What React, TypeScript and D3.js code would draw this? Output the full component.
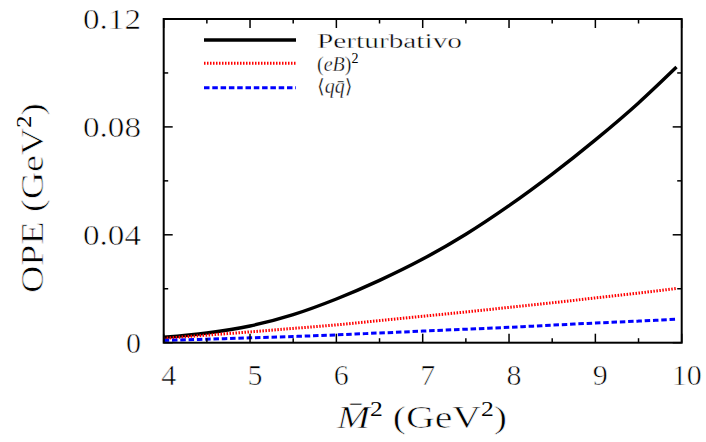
import React from "react";
import * as d3 from "d3";

// Borel mass squared (GeV^2)
const m2Values = [4, 4.5, 5, 5.5, 6, 6.5, 7, 7.5, 8, 8.5, 9, 9.5, 9.94];
// OPE contributions (GeV^2)
const perturbativo = [0.002, 0.0036, 0.0062, 0.0104, 0.0162, 0.0231, 0.031, 0.0402, 0.0508, 0.0625, 0.0752, 0.0889, 0.1022];
const eB2 = [0.0016, 0.0028, 0.004, 0.0053, 0.0066, 0.0082, 0.0098, 0.0114, 0.0131, 0.0148, 0.0166, 0.0184, 0.0201];
const condensado = [0.0008, 0.0013, 0.0018, 0.0023, 0.0029, 0.0036, 0.0043, 0.005, 0.0057, 0.0065, 0.0073, 0.008, 0.0087];

const xMajorTicks = [4, 5, 6, 7, 8, 9, 10];
const xMinorTicks = [4.5, 5.5, 6.5, 7.5, 8.5, 9.5];
const yMajorTicks = [0, 0.04, 0.08, 0.12];
const yMinorTicks = [0.02, 0.06, 0.1];
const yTickLabels = ["0", "0.04", "0.08", "0.12"];

const W = 706;
const H = 442;
const L = 163.7;
const R = 681.7;
const T = 19;
const B = 342.7;

const FONT = "'Times New Roman', 'Liberation Serif', Tinos, 'DejaVu Serif', serif";

// thin white outline drawn over the glyphs to lighten the heavy serif face
const textStyle = { stroke: "#fff", strokeWidth: 0.6 } as const;
const supStyle = { stroke: "none" } as const;

export default function App() {
  const x = d3.scaleLinear().domain([4, 10]).range([L, R]);
  const y = d3.scaleLinear().domain([0, 0.12]).range([B, T]);

  const line = d3
    .line<number>()
    .x((_, i) => x(m2Values[i]))
    .y((d) => y(d))
    .curve(d3.curveMonotoneX);

  const series = [
    { name: "pert", values: perturbativo, color: "#000000", width: 3.4, dash: "" },
    { name: "eB", values: eB2, color: "#ff0000", width: 3, dash: "1.5,1.5" },
    { name: "qq", values: condensado, color: "#0000ff", width: 3, dash: "5.5,2.8" },
  ];

  const major = 9;
  const minor = 4.5;
  const legendY = [40, 63.3, 87.7];

  return (
    <svg
      width={W}
      height={H}
      viewBox={`0 0 ${W} ${H}`}
      style={{ position: "absolute", left: 0, top: 0, background: "#fff", fontFamily: FONT }}
    >
      <rect x={0} y={0} width={W} height={H} fill="#fff" />

      {/* curves */}
      {series.map((s) => (
        <path
          key={s.name}
          d={line(s.values) || ""}
          fill="none"
          stroke={s.color}
          strokeWidth={s.width}
          strokeDasharray={s.dash || undefined}
        />
      ))}

      {/* x ticks, bottom and top */}
      {xMajorTicks.map((t) => (
        <g key={`xM${t}`} stroke="#000" strokeWidth={1.5}>
          <line x1={x(t)} x2={x(t)} y1={B} y2={B - major} />
          <line x1={x(t)} x2={x(t)} y1={T} y2={T + major} />
        </g>
      ))}
      {xMinorTicks.map((t) => (
        <g key={`xm${t}`} stroke="#000" strokeWidth={1.5}>
          <line x1={x(t)} x2={x(t)} y1={B} y2={B - minor} />
          <line x1={x(t)} x2={x(t)} y1={T} y2={T + minor} />
        </g>
      ))}
      {/* y ticks, left and right */}
      {yMajorTicks.map((t) => (
        <g key={`yM${t}`} stroke="#000" strokeWidth={1.5}>
          <line x1={L} x2={L + major} y1={y(t)} y2={y(t)} />
          <line x1={R} x2={R - major} y1={y(t)} y2={y(t)} />
        </g>
      ))}
      {yMinorTicks.map((t) => (
        <g key={`ym${t}`} stroke="#000" strokeWidth={1.5}>
          <line x1={L} x2={L + minor} y1={y(t)} y2={y(t)} />
          <line x1={R} x2={R - minor} y1={y(t)} y2={y(t)} />
        </g>
      ))}

      {/* frame */}
      <rect x={L} y={T} width={R - L} height={B - T} fill="none" stroke="#000" strokeWidth={2} />

      <g style={textStyle}>
        {/* tick labels */}
        {xMajorTicks.map((t) => (
          <text key={`xl${t}`} x={x(t) + 5} y={385} fontSize={30} textAnchor="middle" fill="#000">
            {t}
          </text>
        ))}
        {yMajorTicks.map((t, i) => (
          <text
            key={`yl${t}`}
            x={141}
            y={y(t) + 10}
            fontSize={30}
            textAnchor="end"
            fill="#000"
            textLength={yTickLabels[i].length > 1 ? 58 : undefined}
            lengthAdjust="spacingAndGlyphs"
          >
            {yTickLabels[i]}
          </text>
        ))}

        {/* axis titles */}
        <text x={337} y={428} fontSize={31} fill="#000" textLength={170} lengthAdjust="spacingAndGlyphs">
          <tspan fontStyle="italic">{"M\u0304"}</tspan>
          <tspan fontSize={20} dy={-12} style={supStyle}>2</tspan>
          <tspan dy={12}>{"\u00a0(GeV"}</tspan>
          <tspan fontSize={20} dy={-12} style={supStyle}>2</tspan>
          <tspan dy={12}>)</tspan>
        </text>
        <text
          transform={`translate(43, 293) rotate(-90)`}
          x={0}
          y={0}
          fontSize={31}
          fill="#000"
          textLength={190}
          lengthAdjust="spacingAndGlyphs"
        >
          <tspan>OPE (GeV</tspan>
          <tspan fontSize={20} dy={-12} style={supStyle}>2</tspan>
          <tspan dy={12}>)</tspan>
        </text>
      </g>

      {/* legend */}
      {series.map((s, i) => (
        <line
          key={`lg${s.name}`}
          x1={204}
          x2={296}
          y1={legendY[i]}
          y2={legendY[i]}
          stroke={s.color}
          strokeWidth={s.width}
          strokeDasharray={s.dash || undefined}
        />
      ))}
      <g style={{ stroke: "#fff", strokeWidth: 0.35 }}>
        <text x={317} y={48} fontSize={20} fill="#000" textLength={145} lengthAdjust="spacingAndGlyphs">
          Perturbativo
        </text>
        <text x={317} y={70.5} fontSize={20} fill="#000">
          <tspan>(</tspan>
          <tspan fontStyle="italic">eB</tspan>
          <tspan>)</tspan>
          <tspan fontSize={14} dy={-8} style={supStyle}>2</tspan>
        </text>
        <text x={317} y={93} fontSize={20} fill="#000">
          <tspan>{"\u27e8"}</tspan>
          <tspan fontStyle="italic">{"q"}</tspan>
          <tspan fontStyle="italic">{"q\u0304"}</tspan>
          <tspan>{"\u27e9"}</tspan>
        </text>
      </g>
    </svg>
  );
}
